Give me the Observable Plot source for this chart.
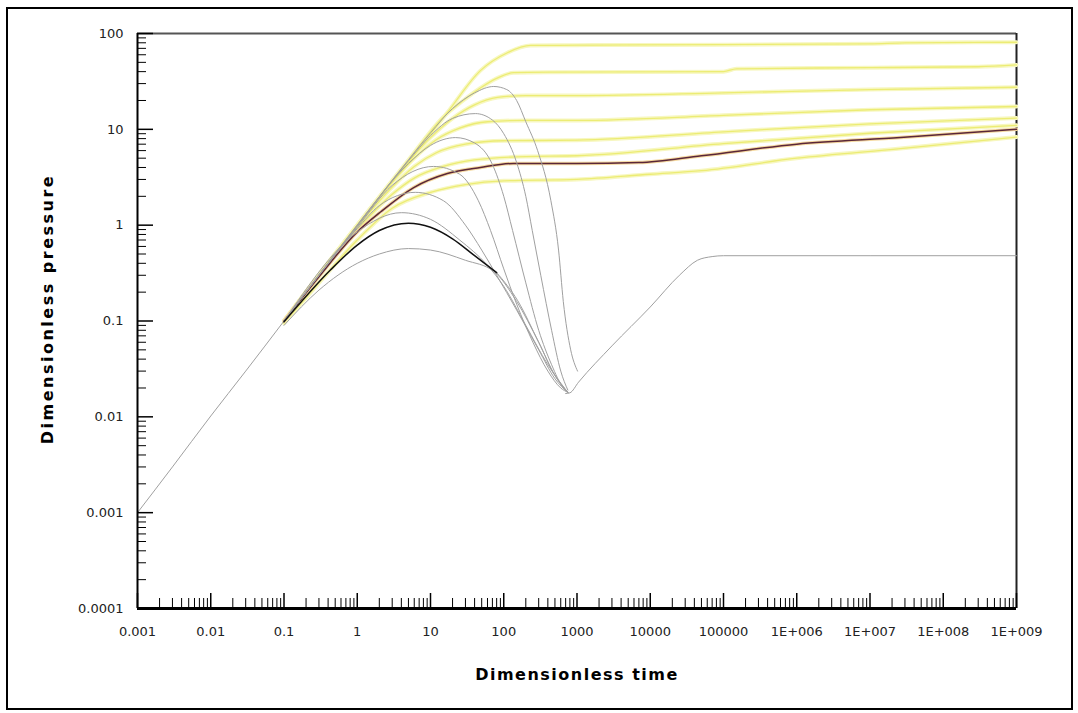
<!DOCTYPE html>
<html>
<head>
<meta charset="utf-8">
<script src="https://cdn.jsdelivr.net/npm/d3@7"></script>
<script src="https://cdn.jsdelivr.net/npm/@observablehq/plot@0.6"></script>
<style>
  html, body { margin: 0; padding: 0; background: #fff; }
  #wrap { position: relative; width: 1078px; height: 713px; overflow: hidden; }
  #border { position: absolute; left: 6px; top: 7px; width: 1063px; height: 699px; border: 2px solid #000; pointer-events: none; }
</style>
</head>
<body>
<div id="wrap"><div id="border"></div></div>
<script>
// ---- data (dimensionless time tD, dimensionless pressure pD) ----
const commonEarly = [[0.001,0.001],[0.003,0.003],[0.01,0.0102],[0.03,0.03],[0.1,0.1]];

const yellow1 = [[0.1,0.1],[1,1],[5.9,5.3],[17,15],[48,41],[112,63],[232,75],[1e3,75.5],[1e5,76.5],[1e7,78],[3e7,80],[1e9,81]];
const yellow2 = [[0.1,0.1],[1,1],[5,4.8],[15,13.5],[28,20],[48,27],[80,34],[136,39],[400,39.5],[1e5,40],[1.5e5,42.8],[1e7,44],[3e8,45],[1e9,47]];
const yellow3 = [[0.1,0.1],[1,1],[5,4.6],[10,8.2],[20,13],[40,18],[82,21.5],[200,22.5],[1e3,22.5],[1e5,24],[1e7,26],[1e9,27.5]];
const yellow4 = [[0.1,0.1],[1,0.98],[3,2.8],[6,5],[12,7.8],[25,10.3],[60,12],[200,12.4],[1e3,12.4],[1e5,14],[1e7,16],[1e9,17.3]];
const yellow5 = [[0.1,0.1],[1,0.95],[3,2.5],[6,4.1],[12,5.7],[30,7],[100,7.6],[1e3,7.7],[1e5,9.4],[1e7,11.4],[1e9,13.1]];
const yellow6 = [[0.1,0.1],[1,0.9],[3,2.1],[6,3.1],[15,4.1],[40,4.8],[200,5.2],[1e3,5.3],[1e5,7.1],[1e7,9.1],[1e9,11]];
const yellow7 = [[0.1,0.095],[0.3,0.25],[1,0.7],[3,1.5],[10,2.2],[30,2.65],[100,2.9],[1e3,3.0],[1e4,3.4],[5e4,3.7],[1e6,5.0],[2.6e7,6.3],[1e9,8.3]];
const brownCurve = [[0.1,0.1],[0.3,0.29],[1,0.85],[2.1,1.38],[5.9,2.47],[17,3.46],[48,4.0],[136,4.4],[1e3,4.4],[7e3,4.5],[5e4,5.3],[1e6,7.0],[2.6e7,8.2],[1e9,10]];

const grayA = [[0.1,0.1],[1,1],[5,4.8],[10,9.2],[20,16.5],[40,24],[73,28],[110,26],[150,20],[200,12],[290,6],[440,1.8],[560,0.55],[650,0.16],[820,0.05],[1017,0.03]];
const grayB = [[0.1,0.1],[1,1],[5,4.7],[10,8.6],[20,13],[41,14.6],[70,12.5],[100,9],[150,4.5],[200,2],[245,0.88],[320,0.3],[450,0.08],[600,0.03],[750,0.019]];
const grayC = [[0.1,0.1],[1,0.98],[5,4.4],[10,6.8],[22,8.2],[40,7.2],[70,4.3],[100,2],[132,0.88],[200,0.25],[300,0.08],[450,0.035],[650,0.02],[750,0.018]];
const grayD = [[0.1,0.1],[1,0.95],[3,2.6],[11,4.1],[25,3.4],[45,1.8],[66,0.88],[100,0.35],[150,0.15],[250,0.06],[400,0.03],[600,0.02],[750,0.018]];
const grayE = [[0.1,0.1],[1,0.92],[2,1.6],[6.2,2.2],[15,1.8],[30,1.0],[50,0.55],[80,0.3],[150,0.13],[300,0.05],[500,0.025],[750,0.018]];
const grayF = [[0.1,0.1],[1,0.85],[4,1.35],[10,1.15],[25,0.7],[60,0.38],[100,0.23],[200,0.09],[400,0.035],[750,0.018]];
const grayLow = [[0.1,0.09],[0.3,0.21],[1,0.4],[2,0.5],[5,0.57],[10,0.55],[30,0.43],[73,0.33],[150,0.16],[300,0.06],[500,0.027],[750,0.018]];
const blackTail = [[80,0.32],[155,0.163],[300,0.06],[500,0.027],[750,0.018]];
const grayV = [[700,0.0175],[800,0.0178],[1050,0.023],[3000,0.055],[1e4,0.14],[2.5e4,0.3],[4.4e4,0.43],[7e4,0.47],[1e5,0.48],[1e9,0.48]];
const blackCurve = [[0.1,0.098],[0.43,0.34],[1,0.62],[2,0.88],[5,1.05],[10,0.95],[20,0.72],[40,0.48],[80,0.32]];

const xTickValues = [1e-3,1e-2,1e-1,1,10,100,1e3,1e4,1e5,1e6,1e7,1e8,1e9];
const xTickLabels = ["0.001","0.01","0.1","1","10","100","1000","10000","100000","1E+006","1E+007","1E+008","1E+009"];
const yTickValues = [1e-4,1e-3,1e-2,1e-1,1,10,100];
const yTickLabels = ["0.0001","0.001","0.01","0.1","1","10","100"];

const xTitle = "Dimensionless time";
const yTitle = "Dimensionless pressure";

// ---- build tables ----
const toRows = (arr, name) => arr.map(([t, p]) => ({t, p, name}));
const yellowRows = [yellow1,yellow2,yellow3,yellow4,yellow5,yellow6,yellow7].flatMap((a,i)=>toRows(a,"Y"+i));
const grayRows = [commonEarly,grayA,grayB,grayC,grayD,grayE,grayF,grayLow,blackTail,grayV].flatMap((a,i)=>toRows(a,"G"+i));
const brownRows = toRows(brownCurve,"brown");
const blackRows = toRows(blackCurve,"black");

const minorOf = (majors) => majors.slice(0,-1).flatMap(m => [2,3,4,5,6,7,8,9].map(k => m*k));
const xMinor = minorOf(xTickValues);
const yMinor = minorOf(yTickValues);

const W = 1078, H = 713, mL = 137, mR = 62, mT = 33, mB = 105;
const plotW = W - mL - mR, plotH = H - mT - mB;

const chart = Plot.plot({
  width: W, height: H,
  marginLeft: mL, marginRight: mR, marginTop: mT, marginBottom: mB,
  style: {fontFamily: "DejaVu Sans, sans-serif", fontSize: "13px", color: "#222", background: "transparent"},
  x: {type: "log", domain: [1e-3, 1e9]},
  y: {type: "log", domain: [1e-4, 100]},
  marks: [
    // frame top/right
    Plot.ruleY([100], {stroke: "#555", strokeWidth: 2}),
    Plot.ruleX([1e9], {stroke: "#222", strokeWidth: 2}),
    // curves
    Plot.line(yellowRows, {x: "t", y: "p", z: "name", stroke: "#f7f7c0", strokeWidth: 4, curve: "monotone-x"}),
    Plot.line(yellowRows, {x: "t", y: "p", z: "name", stroke: "#ecec74", strokeWidth: 1.3, curve: "monotone-x"}),
    Plot.line(brownRows, {x: "t", y: "p", stroke: "#f5d9a0", strokeWidth: 3.5, curve: "monotone-x"}),
    Plot.line(brownRows, {x: "t", y: "p", stroke: "#5a2638", strokeWidth: 1.5, curve: "monotone-x"}),
    Plot.line(grayRows, {x: "t", y: "p", z: "name", stroke: "#a0a0a0", strokeWidth: 1, curve: "monotone-x"}),
    Plot.line(blackRows, {x: "t", y: "p", stroke: "#111", strokeWidth: 1.5, curve: "monotone-x"}),
    // minor / major ticks pointing inward
    Plot.ruleX(xMinor, {stroke: "#000", strokeWidth: 1, insetTop: plotH - 10}),
    Plot.ruleX(xTickValues, {stroke: "#000", strokeWidth: 1.5, insetTop: plotH - 15}),
    Plot.ruleY(yMinor, {stroke: "#000", strokeWidth: 1, insetRight: plotW - 9}),
    Plot.ruleY(yTickValues, {stroke: "#000", strokeWidth: 1.5, insetRight: plotW - 16}),
    // axis lines
    Plot.ruleX([1e-3], {stroke: "#000", strokeWidth: 2}),
    Plot.ruleY([1e-4], {stroke: "#000", strokeWidth: 3}),
    // tick labels
    Plot.axisX({ticks: xTickValues, tickSize: 0, tickPadding: 18, tickFormat: d => xTickLabels[xTickValues.indexOf(d)], label: null}),
    Plot.axisY({ticks: yTickValues, tickSize: 0, tickPadding: 14, tickFormat: d => yTickLabels[yTickValues.indexOf(d)], label: null}),
    // titles
    Plot.text([xTitle], {frameAnchor: "bottom", dy: 71, textAnchor: "middle", fontWeight: "bold", fontSize: 16, fill: "#000"}),
    Plot.text([yTitle], {frameAnchor: "left", dx: -90, dy: -12, textAnchor: "middle", rotate: -90, fontWeight: "bold", fontSize: 16, fill: "#000"})
  ]
});
// widen the bold titles like the original's heavy font
chart.querySelectorAll("text").forEach(t => {
  if (t.textContent === xTitle) t.setAttribute("letter-spacing", "1.5px");
  if (t.textContent === yTitle) t.setAttribute("letter-spacing", "2.5px");
});
document.getElementById("wrap").prepend(chart);
</script>
</body>
</html>
